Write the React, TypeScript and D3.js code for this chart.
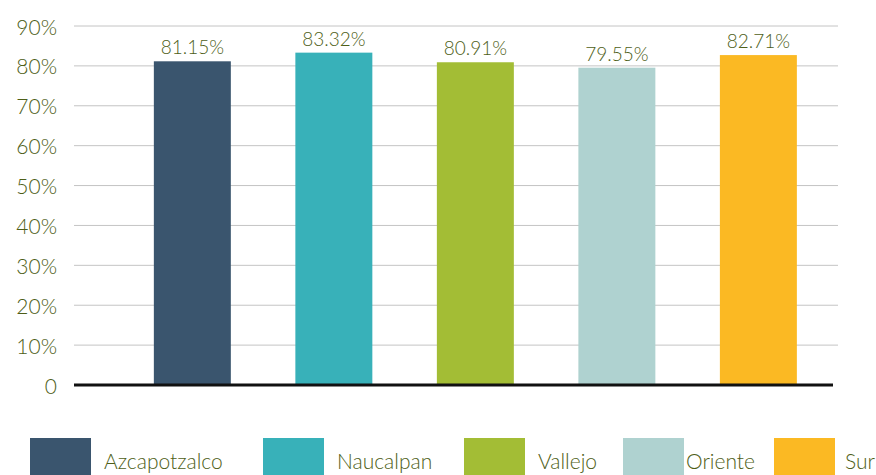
import * as d3 from "d3";

const categories = ["Azcapotzalco", "Naucalpan", "Vallejo", "Oriente", "Sur"];
const values = [81.15, 83.32, 80.91, 79.55, 82.71];
const colors = ["#3a556e", "#38b1b9", "#a3bd35", "#afd2d0", "#fbb923"];
const yTicks = [0, 10, 20, 30, 40, 50, 60, 70, 80, 90];

const W = 876;
const H = 475;
const TEXT = "#4e5e17";
const FONT = "Lato, 'Open Sans', sans-serif";

export default function App() {
  const x = d3
    .scaleBand<string>()
    .domain(categories)
    .range([74, 838])
    .paddingInner(0.456)
    .paddingOuter(0.4275)
    .align(0.66);

  const y = d3.scaleLinear().domain([0, 90]).range([385, 26]);

  // legend positions (square left edges)
  const legendX = d3.scaleOrdinal<string, number>().domain(categories).range([30, 263, 464, 623, 774]);

  return (
    <svg
      width={W}
      height={H}
      style={{ position: "absolute", left: 0, top: 0, background: "#fff" }}
      fontFamily={FONT}
      fontWeight={300}
    >
      <rect width={W} height={H} fill="#fff" />

      {/* grid lines */}
      {yTicks.filter((t) => t > 0).map((t) => (
        <line key={t} x1={74} x2={838} y1={y(t)} y2={y(t)} stroke="#c4c4c4" strokeWidth={1} />
      ))}

      {/* y tick labels */}
      {yTicks.map((t) => (
        <text
          key={t}
          x={57}
          y={y(t)}
          textAnchor="end"
          dominantBaseline="central"
          fontSize={21}
          fill={TEXT}
        >
          {t === 0 ? "0" : `${t}%`}
        </text>
      ))}

      {/* bars */}
      {categories.map((c, i) => (
        <g key={c}>
          <rect
            x={x(c)}
            y={y(values[i])}
            width={x.bandwidth()}
            height={y(0) - y(values[i])}
            fill={colors[i]}
          />
          <text
            x={(x(c) ?? 0) + x.bandwidth() / 2}
            y={y(values[i]) - 7}
            textAnchor="middle"
            fontSize={19}
            fill={TEXT}
          >
            {values[i].toFixed(2)}%
          </text>
        </g>
      ))}

      {/* baseline */}
      <line x1={74} x2={833} y1={y(0)} y2={y(0)} stroke="#111" strokeWidth={3} />

      {/* legend */}
      {categories.map((c, i) => (
        <g key={c} transform={`translate(${legendX(c)},438)`}>
          <rect width={61} height={40} fill={colors[i]} />
          <text x={c === "Oriente" ? 63 : c === "Sur" ? 71 : 74} y={31} fontSize={21} fill={TEXT}>
            {c}
          </text>
        </g>
      ))}
    </svg>
  );
}
